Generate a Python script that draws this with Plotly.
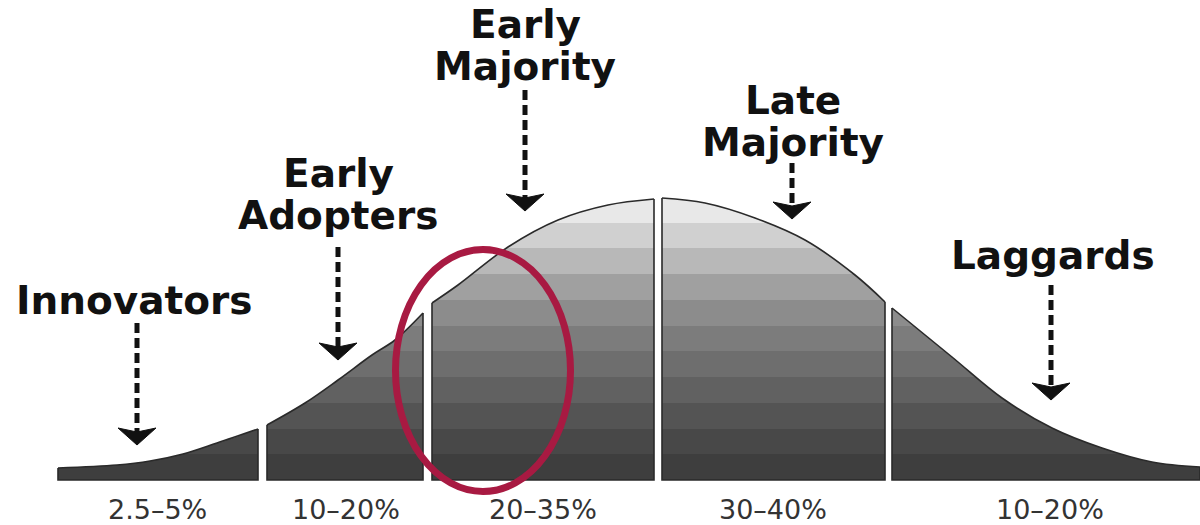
import plotly.graph_objects as go

# ---- data ----------------------------------------------------------------
# bell curve: horizontal position and height above the baseline
curve_x = [58, 117, 150, 183, 217, 258,
           267, 305, 338, 372, 395, 423,
           432, 458, 508, 558, 608, 654,
           662, 705, 755, 805, 855, 885,
           892, 952, 1002, 1052, 1102, 1152, 1200]
curve_h = [12, 15, 19, 26, 37, 51,
           55, 77, 100, 125, 140, 167,
           177, 195, 233, 260, 275, 281,
           282, 277, 262, 240, 205, 178,
           172, 123, 82, 52, 32, 18, 13]

segments = ["Innovators", "Early<br>Adopters", "Early<br>Majority",
            "Late<br>Majority", "Laggards"]
seg_start = [58, 267, 432, 662, 892]
seg_end = [258, 423, 654, 885, 1200]
shares = ["2.5–5%", "10–20%", "20–35%", "30–40%", "10–20%"]

# ---- layout helpers (positions / styles) --------------------------------
label_x = [134, 338, 525, 793, 1053]
label_y = [180, 307, 456, 380, 225]      # centre of first line
line_gap = 42
arrow_x = [137, 338, 525, 792, 1051]
arrow_top = [157, 233, 390, 317, 195]
arrow_tip = [35, 120, 269, 261, 80]
share_x = [157, 346, 543, 773, 1050]
share_y = -29
peak = 283

band_grays = [62, 72, 84, 97, 110, 124, 140, 160, 184, 208, 232]
nb = len(band_grays)
cs = []
for i, g in enumerate(band_grays):
    c = f"rgb({g},{g},{g})"
    cs.append([i / nb, c])
    cs.append([(i + 1) / nb, c])

fig = go.Figure()

for s, e in zip(seg_start, seg_end):
    xs = [x for x in curve_x if s <= x <= e]
    hs = [h for x, h in zip(curve_x, curve_h) if s <= x <= e]
    fig.add_trace(go.Scatter(
        x=xs, y=hs, mode="lines",
        line=dict(shape="spline", smoothing=1.0, color="#2a2a2a", width=1.6),
        fill="tozeroy",
        fillgradient=dict(type="vertical", colorscale=cs, start=0, stop=peak),
        hoverinfo="skip", showlegend=False))
    fig.add_trace(go.Scatter(
        x=[xs[0], xs[0], xs[-1], xs[-1]], y=[hs[0], 0, 0, hs[-1]],
        mode="lines", line=dict(color="#2a2a2a", width=1.6),
        hoverinfo="skip", showlegend=False))

shapes = []
annotations = []
font_lbl = dict(family="DejaVu Sans", size=39, color="#111111", weight="bold")
for name, lx, ly in zip(segments, label_x, label_y):
    for k, line in enumerate(name.split("<br>")):
        annotations.append(dict(x=lx, y=ly - k * line_gap, text=line,
                                showarrow=False, xanchor="center",
                                yanchor="middle", font=font_lbl))

for ax, top, tip in zip(arrow_x, arrow_top, arrow_tip):
    shapes.append(dict(type="line", x0=ax, x1=ax, y0=top, y1=tip + 12,
                       line=dict(color="#111111", width=5, dash="10px,5px")))
    shapes.append(dict(type="path",
                       path=f"M{ax-19},{tip+17} L{ax},{tip} L{ax+19},{tip+17} "
                            f"L{ax},{tip+13} Z",
                       fillcolor="#111111", line=dict(color="#111111", width=1)))

for t, sx in zip(shares, share_x):
    annotations.append(dict(x=sx, y=share_y, text=t, showarrow=False,
                            xanchor="center", yanchor="middle", borderpad=0,
                            font=dict(family="DejaVu Sans", size=27,
                                      color="#333333")))

# highlight ellipse
shapes.append(dict(type="circle", x0=395.5, x1=570.5, y0=-11.5, y1=230.5,
                   line=dict(color="#a81a42", width=7)))

fig.update_layout(
    width=1200, height=525,
    margin=dict(l=0, r=0, t=0, b=0),
    paper_bgcolor="white", plot_bgcolor="white",
    xaxis=dict(range=[0, 1200], visible=False, fixedrange=True),
    yaxis=dict(range=[-45, 480], visible=False, fixedrange=True),
    shapes=shapes, annotations=annotations,
)

fig.write_html("out.html",
               config={"displayModeBar": False},
               post_script="document.body.style.margin='0px';"
                           "document.body.style.overflow='hidden';")
